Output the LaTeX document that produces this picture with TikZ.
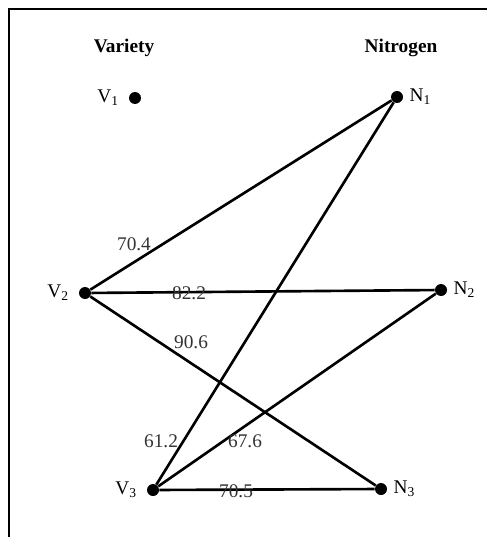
\documentclass[tikz,border=0pt]{standalone}
\usepackage{fontspec}
\setmainfont{Liberation Serif}
\usetikzlibrary{positioning}

\begin{document}
\begin{tikzpicture}[
  x=0.02cm, y=-0.02cm,
  font=\fontsize{11}{13}\selectfont,
  vertex/.style={circle, fill=black, inner sep=0pt, minimum size=0.24cm},
  head/.style={font=\fontsize{11}{13}\selectfont\bfseries},
  link/.style={line width=1.5pt, black},
  weight/.style={text=black!80, inner sep=1pt}
]
\useasboundingbox (0,0) rectangle (487,537);
\draw[line width=1.2pt] (9,537) -- (9,9) -- (487,9);

% headers
\node[head] (variety) at (124,48) {Variety};
\node[head] (nitrogen) at (401,48) {Nitrogen};

% vertices
\node[vertex] (v1) at (135,98) {};
\node[vertex] (v2) at (85,293) {};
\node[vertex] (v3) at (153,490) {};
\node[vertex] (n1) at (397,97) {};
\node[vertex] (n2) at (441,290) {};
\node[vertex] (n3) at (381,489) {};

\node[left=2pt of v1] {V\textsubscript{1}};
\node[left=2pt of v2] {V\textsubscript{2}};
\node[left=2pt of v3] {V\textsubscript{3}};
\node[right=0pt of n1] {N\textsubscript{1}};
\node[right=0pt of n2] {N\textsubscript{2}};
\node[right=0pt of n3] {N\textsubscript{3}};

% links
\draw[link] (v2) -- (n1);
\draw[link] (v2) -- (n2);
\draw[link] (v2) -- (n3);
\draw[link] (v3) -- (n1);
\draw[link] (v3) -- (n2);
\draw[link] (v3) -- (n3);

% weights
\node[weight] (w1) at (134,244) {70.4};
\node[weight] (w2) at (189,293) {82.2};
\node[weight] (w3) at (191,342) {90.6};
\node[weight] (w4) at (161,441) {61.2};
\node[weight] (w5) at (245,441) {67.6};
\node[weight] (w6) at (236,491) {70.5};

\end{tikzpicture}
\end{document}
